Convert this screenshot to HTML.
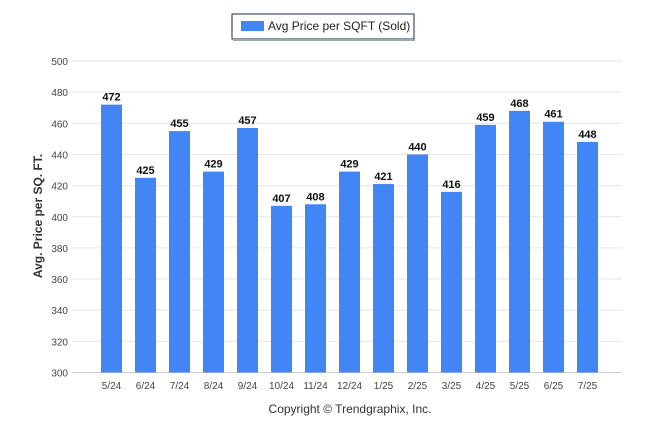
<!DOCTYPE html>
<html><head><meta charset="utf-8"><style>
body{margin:0;background:#fff;width:646px;height:434px;overflow:hidden;font-family:"Liberation Sans",sans-serif}
</style></head><body>
<svg width="646" height="434">
<g>
<rect x="232" y="14" width="182" height="25" fill="#fff" stroke="#1c2a4a" stroke-width="1"/>
<line x1="233" y1="40" x2="415" y2="40" stroke="#9aa" stroke-width="2"/>
<rect x="241" y="21" width="23" height="10" fill="#4285f4"/>
<text x="268" y="30" font-size="12" fill="#222">Avg Price per SQFT (Sold)</text>
</g>
<text transform="translate(42,216) rotate(-90)" text-anchor="middle" font-size="12" font-weight="bold" fill="#333">Avg. Price per SQ. FT.</text>
<g id="grid"></g><g id="bars"></g>
<text x="350" y="413" text-anchor="middle" font-size="12" fill="#333">Copyright © Trendgraphix, Inc.</text>
</svg>
<script>
const categories=["5/24","6/24","7/24","8/24","9/24","10/24","11/24","12/24","1/25","2/25","3/25","4/25","5/25","6/25","7/25"];
const values=[472,425,455,429,457,407,408,429,421,440,416,459,468,461,448];
const ticks=[300,320,340,360,380,400,420,440,460,480,500];
const NS="http://www.w3.org/2000/svg";
const y=v=>372.5-(v-300)*(311.5/200);
const x=i=>111.5+34*i;
function mk(t,a,p){const e=document.createElementNS(NS,t);for(const k in a)e.setAttribute(k,a[k]);p.appendChild(e);return e;}
const g=document.getElementById('grid'),b=document.getElementById('bars');
ticks.forEach(t=>{
 const l=mk('line',{x1:72,x2:622,y1:y(t),y2:y(t),stroke:'#e6e6e6'},g);
 
 
 const tx=mk('text',{x:68,y:y(t)+4,'text-anchor':'end','font-size':10,fill:'#444'},g);
 tx.textContent=t;
 
 
});
mk('line',{x1:72,x2:622,y1:y(300),y2:y(300),stroke:'#ccc'},g);
categories.forEach((c,i)=>{
 const v=values[i];
 const r=mk('rect',{x:x(i)-10.5,y:y(v),width:21,height:y(300)-y(v),fill:'#4285f4'},b);
 
 
 const vl=mk('text',{x:x(i),y:y(v)-4,'text-anchor':'middle','font-size':11,'font-weight':'bold',fill:'#111'},b);
 vl.textContent=v;
 
 
 const xl=mk('text',{x:x(i),y:389,'text-anchor':'middle','font-size':10,fill:'#444'},b);
 xl.textContent=c;
 
 
});
</script>
</body></html>
